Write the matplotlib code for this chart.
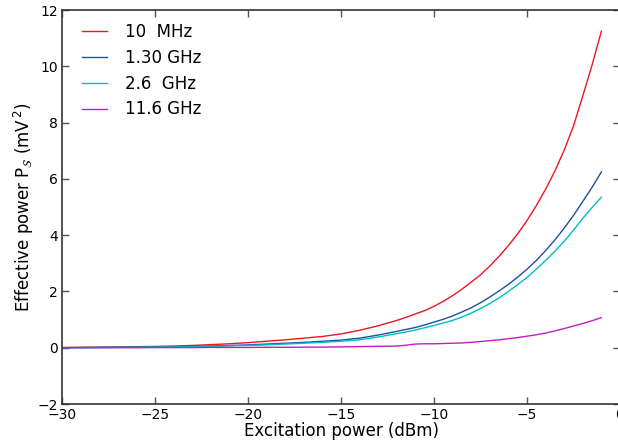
import numpy as np
import matplotlib
matplotlib.use('Agg')
import matplotlib.pyplot as plt

# Excitation power grid (dBm): coarse where flat, finer where curves rise
power = np.concatenate([np.arange(-30, -12, 1.0), np.arange(-12, -0.9, 0.5)])

# Effective power (mV^2)
p_10mhz = [0.01, 0.015, 0.02, 0.03, 0.035, 0.045, 0.06, 0.08, 0.11, 0.14,
           0.18, 0.23, 0.28, 0.34, 0.40, 0.49, 0.62, 0.78,
           0.97, 1.08, 1.20, 1.32, 1.47, 1.65, 1.85, 2.08, 2.33, 2.59,
           2.90, 3.25, 3.63, 4.05, 4.52, 5.05, 5.63, 6.28, 7.02, 7.88,
           8.95, 10.05, 11.25]
p_130ghz = [0.0, 0.005, 0.01, 0.015, 0.02, 0.025, 0.035, 0.045, 0.06, 0.08,
            0.10, 0.13, 0.16, 0.19, 0.23, 0.27, 0.34, 0.45,
            0.58, 0.65, 0.72, 0.81, 0.91, 1.01, 1.13, 1.27, 1.42, 1.60,
            1.80, 2.02, 2.25, 2.51, 2.79, 3.10, 3.45, 3.83, 4.25, 4.70,
            5.20, 5.70, 6.25]
p_26ghz = [0.0, 0.004, 0.008, 0.012, 0.016, 0.02, 0.028, 0.037, 0.05, 0.065,
           0.08, 0.10, 0.13, 0.16, 0.19, 0.23, 0.28, 0.38,
           0.50, 0.56, 0.63, 0.71, 0.79, 0.88, 0.97, 1.09, 1.23, 1.39,
           1.57, 1.77, 2.00, 2.24, 2.50, 2.79, 3.10, 3.43, 3.78, 4.18,
           4.60, 4.98, 5.35]
p_116ghz = [0.0, 0.0, 0.0, 0.0, 0.0, 0.005, 0.005, 0.005, 0.01, 0.01,
            0.01, 0.015, 0.015, 0.02, 0.02, 0.03, 0.04, 0.05,
            0.06, 0.09, 0.13, 0.14, 0.14, 0.15, 0.16, 0.17, 0.19, 0.22,
            0.25, 0.28, 0.32, 0.36, 0.41, 0.46, 0.52, 0.60, 0.68, 0.77,
            0.86, 0.96, 1.07]

labels = ['10  MHz', '1.30 GHz', '2.6  GHz', '11.6 GHz']
colors = ['#f0141e', '#1f4f9f', '#00bfbf', '#bf20bf']

fig = plt.figure(figsize=(6.18, 4.44), dpi=100)
ax = fig.add_axes([62 / 618, 40 / 444, 558 / 618, 394 / 444])

for y, lab, c in zip([p_10mhz, p_130ghz, p_26ghz, p_116ghz], labels, colors):
    ax.plot(power, y, color=c, lw=1.0, label=lab)

ax.set_xlim(-30, 0)
ax.set_ylim(-2, 12)
ax.set_xticks(range(-30, 1, 5))
ax.set_yticks(range(-2, 13, 2))
ax.tick_params(direction='in', top=True, right=True, length=5, width=1,
               color='#555555', labelsize=10, pad=3)
for s in ax.spines.values():
    s.set_linewidth(1.2)
    s.set_color('#333333')

ax.set_xlabel('Excitation power (dBm)', fontsize=12, labelpad=0)
ax.set_ylabel(r'Effective power P$_\mathcal{S}$ (mV$^{\,2}$)', fontsize=12, labelpad=1)

ax.legend(loc='upper left', bbox_to_anchor=(0.024, 0.984), borderaxespad=0,
          frameon=False, fontsize=12, handlelength=1.5, handletextpad=1.1,
          labelspacing=0.47)

plt.savefig('out.png', dpi=100)
